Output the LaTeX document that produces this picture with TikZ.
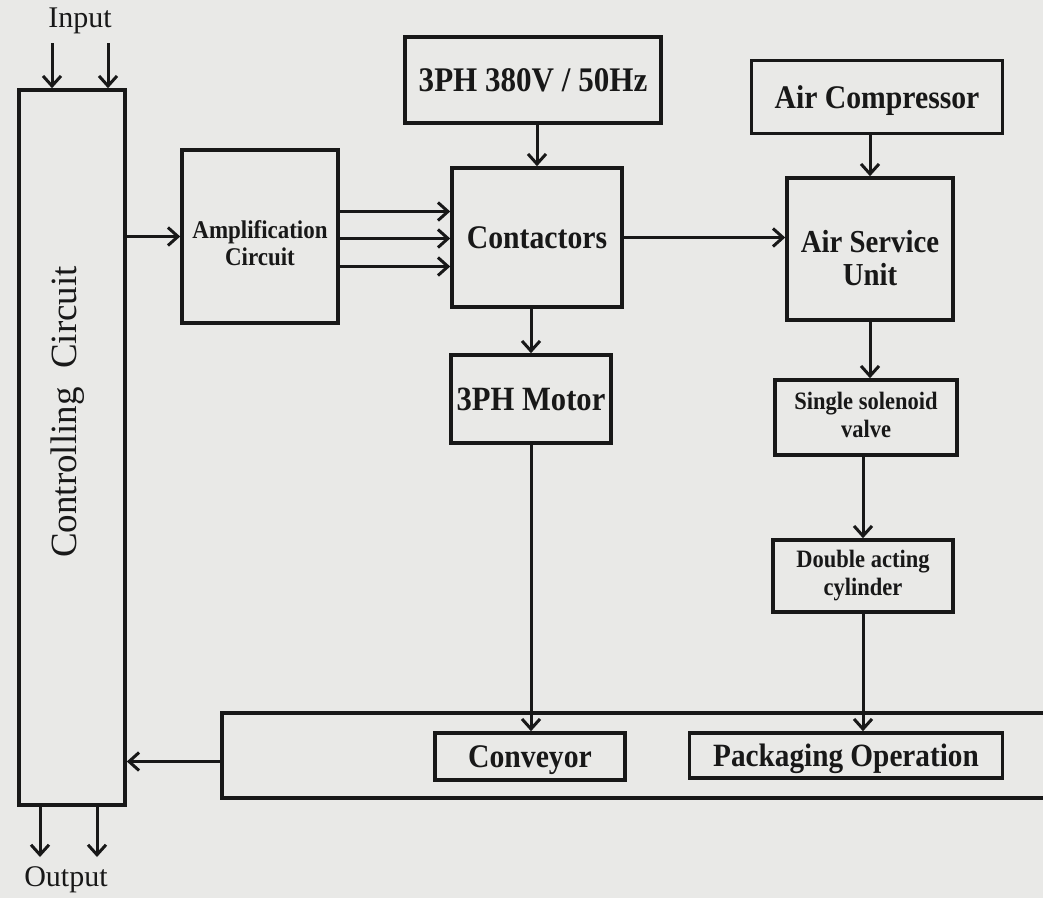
\documentclass[tikz,border=0pt]{standalone}
\usepackage{fontspec}
\setmainfont{Liberation Serif}
\newfontfamily\bx{Liberation Serif}[FakeStretch=0.9]
\usetikzlibrary{arrows.meta,calc}
\definecolor{paper}{RGB}{233,233,231}
\definecolor{ink}{RGB}{24,24,24}
\newcommand\fsz[2]{\fontsize{#1}{#2}\selectfont}
\begin{document}
\begin{tikzpicture}[x=1pt,y=-1pt,
  box/.style={draw=ink,line width=3.6pt,inner sep=0pt,align=center,text=ink,font=\bx\bfseries\fsz{33}{35}},
  single/.style={text depth=0pt},
  btxt/.style={inner sep=0pt,align=center,text=ink},
  lbl/.style={text=ink,inner sep=0pt,font=\fsz{30}{32}},
  arr/.style={draw=ink,line width=3pt,-{Straight Barb[length=10pt,width=18pt]}}]
\fill[paper] (0,0) rectangle (1043,898);
\useasboundingbox (0,0) rectangle (1043,898);

% Controlling circuit
\node[box,minimum width=106pt,minimum height=715pt] (ctrl) at (72,447.5) {};
\node[lbl,rotate=90,font=\fsz{37}{39}] (ctrltxt) at (68,412) {Controlling\ \ Circuit};
\node[lbl] (intxt) at (80,21) {Input};
\node[lbl] (outtxt) at (66,880) {Output};
\coordinate (in1) at (52,43);
\coordinate (in2) at (108,43);
\coordinate (out1) at (40,857);
\coordinate (out2) at (97,857);
\draw[arr] (in1) -- (in1 |- ctrl.north);
\draw[arr] (in2) -- (in2 |- ctrl.north);
\draw[arr] (ctrl.south -| out1) -- (out1);
\draw[arr] (ctrl.south -| out2) -- (out2);

% Amplification
\node[box,minimum width=156pt,minimum height=173pt] (amp) at (260,236.5) {};
\node[btxt,font=\bx\bfseries\fsz{25.5}{27}] (amptxt) at ([yshift=-7pt]amp.center) {Amplification\\Circuit};
\draw[arr] (amp.west -| ctrl.east) -- (amp.west);

% Power source and contactors
\node[box,single,minimum width=256pt,minimum height=86pt,font=\bx\bfseries\fsz{34.5}{36}] (src) at (533,80) {3PH 380V / 50Hz};
\node[box,single,minimum width=170pt,minimum height=139pt] (cont) at (537,237.5) {Contactors};
\draw[arr] (src.south -| cont.north) -- (cont.north);
\draw[arr] ([yshift=25pt]amp.east) -- ([yshift=25pt]amp.east -| cont.west);
\draw[arr] ([yshift=-2pt]amp.east) -- ([yshift=-2pt]amp.east -| cont.west);
\draw[arr] ([yshift=-30pt]amp.east) -- ([yshift=-30pt]amp.east -| cont.west);

% Motor
\node[box,single,minimum width=160pt,minimum height=88pt,font=\bx\bfseries\fsz{34}{36}] (motor) at (531,399) {3PH Motor};
\draw[arr] (cont.south -| motor.north) -- (motor.north);

% Air side
\node[box,single,minimum width=251pt,minimum height=73pt] (comp) at (877,97) {Air Compressor};
\node[box,minimum width=166pt,minimum height=142pt] (asu) at (870,249) {};
\node[btxt,font=\bx\bfseries\fsz{32}{33}] (asutxt) at ([yshift=-9pt]asu.center) {Air Service\\Unit};
\draw[arr] (asu.north |- comp.south) -- (asu.north);
\draw[arr] (cont.east) -- (cont.east -| asu.west);
\node[box,minimum width=182pt,minimum height=75pt] (sol) at (866,417.5) {};
\node[btxt,font=\bx\bfseries\fsz{25}{28}] (soltxt) at ([yshift=3pt]sol.center) {Single solenoid\\valve};
\draw[arr] (asu.south) -- (asu.south |- sol.north);
\node[box,minimum width=180pt,minimum height=72pt,font=\bx\bfseries\fsz{25}{28}] (cyl) at (863,576) {Double acting\\cylinder};
\draw[arr] (sol.south -| cyl.north) -- (cyl.north);

% Bottom panel
\node[minimum width=840pt,minimum height=85pt,inner sep=0pt] (panel) at (642,755.5) {};
\draw[ink,line width=3.6pt] (panel.north east) -- (panel.north west) -- (panel.south west) -- (panel.south east);
\node[box,single,minimum width=190pt,minimum height=47pt] (conv) at (530,756.5) {Conveyor};
\node[box,single,minimum width=313pt,minimum height=45pt,font=\bx\bfseries\fsz{32.5}{34}] (pack) at (846,755.5) {Packaging Operation};
\draw[arr] (motor.south) -- (motor.south |- conv.north);
\draw[arr] (cyl.south) -- (cyl.south |- pack.north);
\draw[arr] ([yshift=-6pt]panel.west) -- ([yshift=-6pt]panel.west -| ctrl.east);
\end{tikzpicture}
\end{document}
